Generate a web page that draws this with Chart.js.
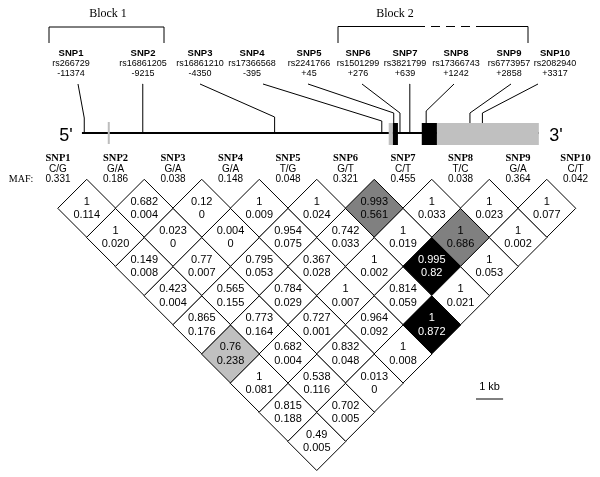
<!DOCTYPE html>
<html>
<head>
<meta charset="utf-8">
<script src="https://cdn.jsdelivr.net/npm/chart.js@4"></script>
<style>
  html, body { margin: 0; padding: 0; background: #fff; }
</style>
</head>
<body>
<canvas id="ldChart" width="600" height="477"></canvas>
<script>
// SNP annotation
const snpNames = ['SNP1', 'SNP2', 'SNP3', 'SNP4', 'SNP5', 'SNP6', 'SNP7', 'SNP8', 'SNP9', 'SNP10'];
const rsIds = ['rs266729', 'rs16861205', 'rs16861210', 'rs17366568', 'rs2241766', 'rs1501299', 'rs3821799', 'rs17366743', 'rs6773957', 'rs2082940'];
const snpPositions = [-11374, -9215, -4350, -395, 45, 276, 639, 1242, 2858, 3317];
const alleles = ['C/G', 'G/A', 'G/A', 'G/A', 'T/G', 'G/T', 'C/T', 'T/C', 'G/A', 'C/T'];
const mafValues = ['0.331', '0.186', '0.038', '0.148', '0.048', '0.321', '0.455', '0.038', '0.364', '0.042'];

// pairwise LD, one row per SNP distance (row 1 = neighbouring SNPs)
const dPrime = [
  ['1', '0.682', '0.12', '1', '1', '0.993', '1', '1', '1'],
  ['1', '0.023', '0.004', '0.954', '0.742', '1', '1', '1'],
  ['0.149', '0.77', '0.795', '0.367', '1', '0.995', '1'],
  ['0.423', '0.565', '0.784', '1', '0.814', '1'],
  ['0.865', '0.773', '0.727', '0.964', '1'],
  ['0.76', '0.682', '0.832', '1'],
  ['1', '0.538', '0.013'],
  ['0.815', '0.702'],
  ['0.49']
];
const rSquared = [
  ['0.114', '0.004', '0', '0.009', '0.024', '0.561', '0.033', '0.023', '0.077'],
  ['0.020', '0', '0', '0.075', '0.033', '0.019', '0.686', '0.002'],
  ['0.008', '0.007', '0.053', '0.028', '0.002', '0.82', '0.053'],
  ['0.004', '0.155', '0.029', '0.007', '0.059', '0.021'],
  ['0.176', '0.164', '0.001', '0.092', '0.872'],
  ['0.238', '0.004', '0.048', '0.008'],
  ['0.081', '0.116', '0'],
  ['0.188', '0.005'],
  ['0.005']
];

// gene structure (bp relative to start)
const geneStart = -11460;
const geneEnd = 5400;
const extraMark = -10470;
const exonStarts = [-140, 15, 1080, 1640];
const exonEnds = [15, 200, 1640, 5400];
const exonKinds = ['utr', 'cds', 'cds', 'utr'];

// label layout for the top annotation
const labelX = [71, 143, 200, 252, 309, 358, 405, 456, 509, 555];
const lineStartX = [78, 143, 200, 263, 308, 362, 410, 454, 511, 538];
const kneeY = [118, 84, 117, 121, 113, 113, 84, 111, 113, 113];

const cells = [];
dPrime.forEach(function(row, r) {
    row.forEach(function(dp, i) {
        cells.push({ x: i + 1 + (r + 1) / 2, y: r + 1, dp: dp, r2: rSquared[r][i] });
    });
});

function cellColor(r2) {
    const v = parseFloat(r2);
    if (v >= 0.8) return '#000000';
    if (v >= 0.5) return '#808080';
    if (v >= 0.2) return '#c0c0c0';
    return '#ffffff';
}

const SANS = '"Liberation Sans", Arial, sans-serif';
const SERIF = '"Liberation Serif", "Times New Roman", serif';

const decorations = {
    id: 'decorations',
    afterDatasetsDraw(chart) {
        const c = chart.ctx;
        const xs = chart.scales.x;
        const xg = chart.scales.xg;
        const meta = chart.getDatasetMeta(0);
        c.save();
        c.textAlign = 'center';
        c.textBaseline = 'middle';

        // numbers inside the diamonds
        c.font = '11px ' + SANS;
        meta.data.forEach(function(pt, k) {
            const cell = cells[k];
            c.fillStyle = parseFloat(cell.r2) >= 0.8 ? '#ffffff' : '#000000';
            c.fillText(cell.dp, pt.x, pt.y - 6.6);
            c.fillText(cell.r2, pt.x, pt.y + 6.8);
        });

        // LD header
        snpNames.forEach(function(name, k) {
            const px = xs.getPixelForValue(k + 1);
            c.fillStyle = '#000';
            c.font = 'bold 10.5px ' + SERIF;
            c.fillText(name, px, 158);
            c.font = '10px ' + SANS;
            c.fillText(alleles[k], px, 169);
            c.fillText(mafValues[k], px, 179);
        });
        c.font = '10px ' + SERIF;
        c.fillText('MAF:', 21, 179);

        // gene diagram
        const lineY = 133, boxTop = 123, boxBottom = 145;
        c.strokeStyle = '#000';
        c.lineWidth = 2;
        c.beginPath();
        c.moveTo(xg.getPixelForValue(geneStart), lineY);
        c.lineTo(xg.getPixelForValue(geneEnd), lineY);
        c.stroke();

        c.strokeStyle = '#bdbdbd';
        c.beginPath();
        c.moveTo(xg.getPixelForValue(extraMark), 122);
        c.lineTo(xg.getPixelForValue(extraMark), 144);
        c.stroke();

        exonStarts.forEach(function(s, k) {
            const x0 = xg.getPixelForValue(s);
            const x1 = xg.getPixelForValue(exonEnds[k]);
            c.fillStyle = exonKinds[k] === 'cds' ? '#000000' : '#c0c0c0';
            c.fillRect(x0, boxTop, x1 - x0, boxBottom - boxTop);
        });

        // connectors and SNP labels
        c.strokeStyle = '#000';
        c.lineWidth = 1;
        snpPositions.forEach(function(pos, k) {
            const gx = xg.getPixelForValue(pos);
            let endY = lineY - 1;
            exonStarts.forEach(function(s, e) {
                if (pos >= s && pos <= exonEnds[e]) endY = boxTop;
            });
            c.beginPath();
            c.moveTo(lineStartX[k], 84);
            c.lineTo(gx, kneeY[k]);
            c.lineTo(gx, endY);
            c.stroke();

            c.fillStyle = '#000';
            c.font = 'bold 9.5px ' + SANS;
            c.fillText(snpNames[k], labelX[k], 53);
            c.font = '9px ' + SANS;
            c.fillText(rsIds[k], labelX[k], 63.5);
            c.fillText((pos > 0 ? '+' : '') + pos, labelX[k], 74);
        });

        c.font = '18px ' + SANS;
        c.fillText("5'", 66, 136);
        c.fillText("3'", 556, 136);

        // block brackets
        c.font = '12px ' + SERIF;
        c.fillText('Block 1', 108, 14);
        c.fillText('Block 2', 395, 14);
        c.beginPath();
        c.moveTo(49, 43); c.lineTo(49, 27); c.lineTo(164, 27); c.lineTo(164, 43);
        c.moveTo(338, 43); c.lineTo(338, 26.5); c.lineTo(425, 26.5);
        c.moveTo(482, 26.5); c.lineTo(528, 26.5); c.lineTo(528, 43);
        c.stroke();
        c.setLineDash([9, 6]);
        c.beginPath();
        c.moveTo(431, 26.5); c.lineTo(482, 26.5);
        c.stroke();
        c.setLineDash([]);

        // 1 kb scale bar
        const barLen = xg.getPixelForValue(1000) - xg.getPixelForValue(0);
        c.font = '11px ' + SANS;
        c.fillText('1 kb', 476 + barLen / 2, 387);
        c.beginPath();
        c.moveTo(476, 399);
        c.lineTo(476 + barLen, 399);
        c.stroke();
        c.restore();
    }
};

const chart = new Chart(document.getElementById('ldChart'), {
    type: 'scatter',
    data: {
        datasets: [{
            data: cells,
            pointStyle: 'rectRot',
            pointRadius: 29,
            pointHoverRadius: 29,
            backgroundColor: cells.map(function(d) { return cellColor(d.r2); }),
            borderColor: '#000000',
            borderWidth: 1,
            hoverBorderWidth: 1
        }]
    },
    options: {
        responsive: false,
        animation: false,
        events: [],
        layout: { padding: 0, autoPadding: false },
        plugins: { legend: { display: false }, tooltip: { enabled: false } },
        scales: {
            x: { type: 'linear', display: false, min: 1 - 58 / 57.5, max: 1 + 542 / 57.5 },
            y: { type: 'linear', display: false, reverse: true, min: 1 - 208.3 / 29.15, max: 1 + 268.7 / 29.15 },
            xg: { type: 'linear', axis: 'x', display: false, min: -392.5 / 0.0271, max: 207.5 / 0.0271 }
        }
    },
    plugins: [decorations]
});
</script>
</body>
</html>
